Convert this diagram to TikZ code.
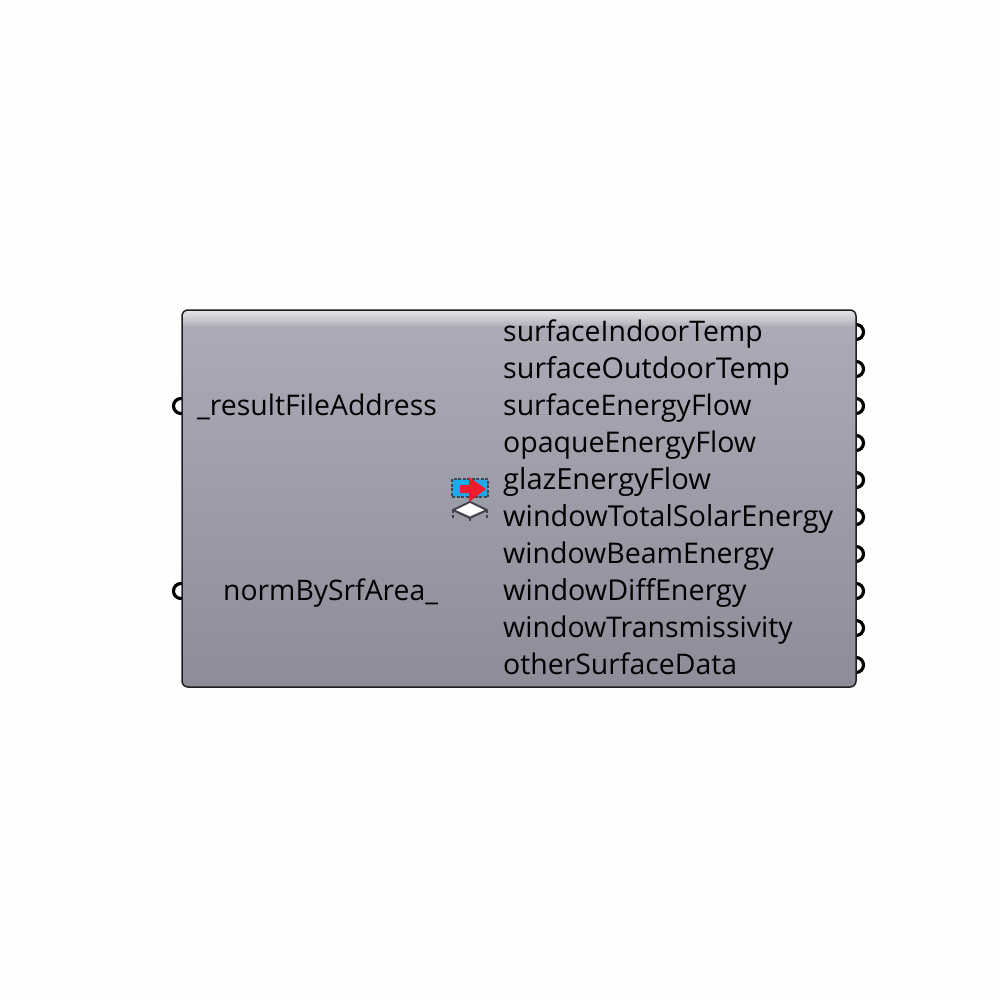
\documentclass[tikz,border=0pt]{standalone}
\usepackage{fontspec}
\setmainfont{Open Sans}
\definecolor{bgc}{HTML}{FEFEFE}
\definecolor{edge}{HTML}{1E1E22}
\definecolor{bodytop}{HTML}{ABABB7}
\definecolor{bodybot}{HTML}{8D8D9A}
\definecolor{hitop}{HTML}{E6E6E8}
\definecolor{hibot}{HTML}{B4B4BE}
\definecolor{icblue}{HTML}{20A8E8}
\definecolor{icred}{HTML}{EE1C2C}
\definecolor{icgrey}{HTML}{44444C}
\tikzset{
  portdot/.style={circle,draw=black,fill=white,line width=3.2pt,minimum size=15pt,inner sep=0pt},
  lbl/.style={anchor=base west,inner sep=0pt,text=black,font=\fontsize{#1}{32}\selectfont},
  lbl/.default=28.4,
}
\begin{document}
\begin{tikzpicture}[x=1pt,y=-1pt]
\useasboundingbox (0,0) rectangle (1000,1000);
\fill[bgc] (0,0) rectangle (1000,1000);
% ports
\foreach \n/\yy in {a/332,b/369,c/406,d/443,e/480,f/517,g/554,h/591,i/628,j/665}
  \node[portdot] (out\n) at (856,\yy) {};
\node[portdot] (in1) at (181,406) {};
\node[portdot] (in2) at (181,591) {};
% body
\begin{scope}
  \clip[rounded corners=6pt] (182,310) rectangle (856,687);
  \shade[top color=bodytop,bottom color=bodybot] (182,325) rectangle (856,687);
  \shade[top color=hitop,bottom color=hibot] (182,310) rectangle (856,325);
\end{scope}
\draw[edge,line width=1.5pt,rounded corners=6pt] (182,310) rectangle (856,687);
% icon
\fill[icblue] (452,479) rectangle (488,497);
\draw[icgrey,line width=2pt,dash pattern=on 3pt off 1.5pt] (452,479) rectangle (488,497);
\fill[icred] (460,485) -- (469,485) -- (469,477) -- (486,489) -- (469,502) -- (469,493) -- (460,493) -- cycle;
\draw[icgrey,line width=2pt,line join=round] (453,510) -- (470,502) -- (487,510) -- (470,518) -- cycle;
\fill[white] (456,510) -- (470,503) -- (484,510) -- (470,516) -- cycle;
\draw[icgrey,line width=2pt,dash pattern=on 3pt off 1.5pt] (453,510) -- (453,519);
\draw[icgrey,line width=2pt,dash pattern=on 3pt off 1.5pt] (487,510) -- (487,519);
\draw[icgrey,line width=2pt] (470,518) -- (470,521);
% labels
\node[lbl] (l1) at (197,415.7) {\_resultFileAddress};
\node[lbl=28.3] (l2) at (223,600.7) {normBySrfArea\_};
\node[lbl] (ta) at (503,341.7) {surfaceIndoorTemp};
\node[lbl=28.7] (tb) at (503,378.7) {surfaceOutdoorTemp};
\node[lbl] (tc) at (503,415.7) {surfaceEnergyFlow};
\node[lbl=28.5] (td) at (503,452.7) {opaqueEnergyFlow};
\node[lbl=29.1] (te) at (503,489.7) {glazEnergyFlow};
\node[lbl=28.9] (tf) at (503,526.7) {windowTotalSolarEnergy};
\node[lbl=28.5] (tg) at (503,563.7) {windowBeamEnergy};
\node[lbl=28.75] (th) at (503,600.7) {windowDiffEnergy};
\node[lbl=28.5] (ti) at (503,637.7) {windowTransmissivity};
\node[lbl] (tj) at (503,674.7) {otherSurfaceData};
\end{tikzpicture}
\end{document}
